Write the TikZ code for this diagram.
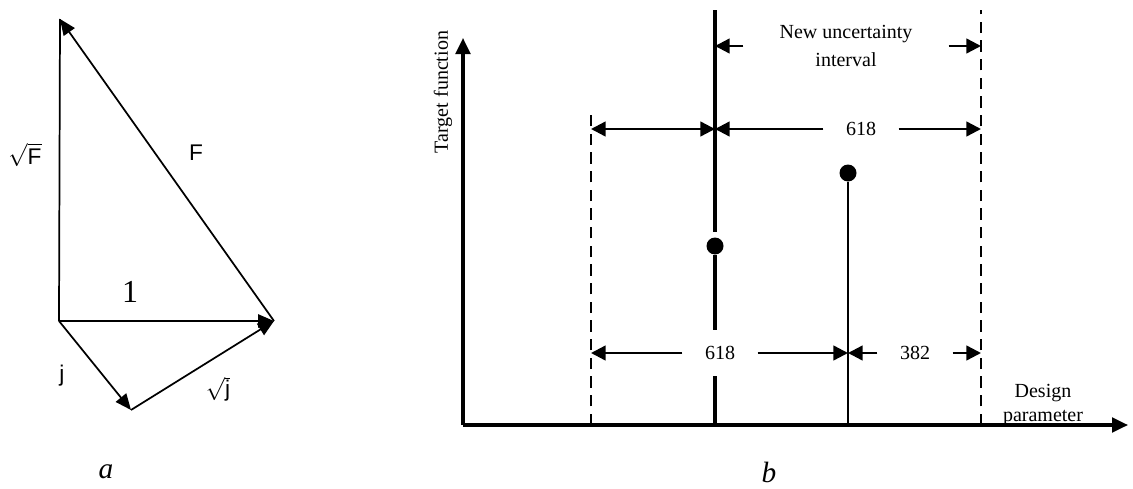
\documentclass[tikz,border=0pt]{standalone}
\usepackage{fontspec}
\setmainfont{Liberation Serif}
\setsansfont{Liberation Sans}
\usetikzlibrary{arrows.meta,positioning,calc}
\tikzset{
  vecline/.style={
    line width=1.3pt
  },
  vecarrow/.style={
    -{Triangle[length=12pt,width=10pt]},
    line width=1.3pt
  },
  axisline/.style={
    -{Triangle[length=12pt,width=11pt]},
    line width=2.4pt
  },
  bound/.style={
    line width=1.3pt,
    dash pattern=on 8.5pt off 5.5pt
  },
  probe/.style={
    line width=2.4pt
  },
  probethin/.style={
    line width=1.3pt
  },
  dimarrow/.style={
    -{Triangle[length=11pt,width=11pt]},
    line width=1.8pt
  },
  dimboth/.style={
    {Triangle[length=11pt,width=11pt]}-{Triangle[length=11pt,width=11pt]},
    line width=1.8pt
  },
  dimlabel/.style={
    fill=white,
    inner sep=0pt,
    minimum width=56pt,
    minimum height=34pt,
    font=\fontsize{15}{18}\selectfont
  },
  testpoint/.style={
    circle,
    fill=black,
    inner sep=0pt,
    minimum size=12.75pt
  },
  veclabel/.style={
    font=\sffamily\fontsize{17}{20}\selectfont
  },
  axislabel/.style={
    font=\fontsize{15}{18.5}\selectfont,
    align=center,
    inner sep=0pt
  },
  caption/.style={
    font=\itshape\fontsize{22}{26}\selectfont
  }
}

\begin{document}
\begin{tikzpicture}[x=0.75pt,y=-0.75pt]
\useasboundingbox (0,0) rectangle (1133,489);

% a: vector triangle
\coordinate (orig) at (59,321);
\coordinate (apex) at (60,19);
\coordinate (unit) at (274,321);
\coordinate (foot) at (131,410);

\draw[vecline] (orig) -- (apex);
\draw[vecarrow] (unit) -- (apex);
\draw[vecarrow] (orig) -- (unit);
\draw[vecarrow] (orig) -- (foot);
\draw[vecarrow] (foot) -- (unit);

\node[veclabel] (sqrtF) at (25,155) {$\sqrt{\textsf{F}}$};
\node[veclabel] (labF) at (196,153) {F};
\node[font=\fontsize{24}{28}\selectfont] (labone) at (130,292) {1};
\node[veclabel] (labj) at (62,376) {j};
\node[veclabel] (sqrtj) at (218,389) {$\sqrt{\textsf{j}}$};
\node[caption] (capA) at (106,472) {a};

% b: golden section search
\coordinate (xl) at (591,425);
\coordinate (xm) at (715,425);
\coordinate (xt) at (848,425);
\coordinate (xr) at (981,425);

\draw[axisline] (463,425) coordinate (o2) -- (463,38);
\draw[axisline] (o2) -- (1128,425);
\node[axislabel, rotate=90] (ylab) at (443,92) {Target function};
\node[axislabel] (xlab) at (1043,405) {Design\\parameter};

\draw[bound] (xl) -- (591,115);
\draw[bound] (xr) -- (981,10);

\node[testpoint] (ptA) at (715,246) {};
\node[testpoint] (ptB) at (848,173) {};
\draw[probe] (715,10) -- (715,232);
\draw[probe] (ptA) -- (xm);
\draw[probethin] (ptB) -- (xt);

\node[axislabel, font=\fontsize{15}{21.5}\selectfont, inner xsep=27pt] (newint) at (846,46) {New uncertainty\\interval};
\draw[dimarrow] (newint.west) -- (xm |- newint.west);
\draw[dimarrow] (newint.east) -- (xr |- newint.east);

\node[dimlabel] (up618) at (861,129) {618};
\draw[dimboth] (xl |- up618) -- (xm |- up618);
\draw[dimarrow] (up618.west) -- (xm |- up618);
\draw[dimarrow] (up618.east) -- (xr |- up618);

\node[dimlabel] (low618) at (720,353) {618};
\node[dimlabel] (low382) at (915,353) {382};
\draw[dimarrow] (low618.west) -- (xl |- low618);
\draw[dimarrow] (low618.east) -- (xt |- low618);
\draw[dimarrow] (low382.west) -- (xt |- low382);
\draw[dimarrow] (low382.east) -- (xr |- low382);

\node[caption] (capB) at (769,472) {b};

\end{tikzpicture}
\end{document}
